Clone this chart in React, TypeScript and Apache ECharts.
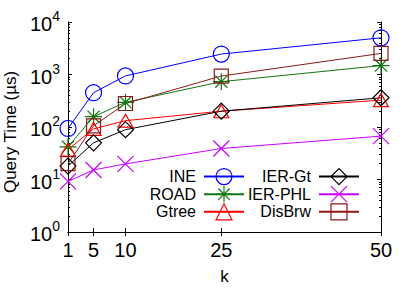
import React, { useEffect, useRef } from "react";
import * as echarts from "echarts";

const ks = [1, 5, 10, 25, 50];
const xTickLabels = [1, 5, 10, 25, 50];
const yDecades = [0, 1, 2, 3, 4];

const seriesNames = ["INE", "ROAD", "Gtree", "IER-Gt", "IER-PHL", "DisBrw"];
const ine = [94, 450, 940, 2450, 5000];
const road = [42, 157, 295, 730, 1480];
const gtree = [37, 92, 132, 200, 325];
const ierGt = [18, 50, 89, 200, 360];
const ierPhl = [9.2, 15.2, 19.8, 39, 67];
const disBrw = [20, 105, 280, 935, 2520];

const colors = ["#0000ff", "#117711", "#ff0000", "#000000", "#cc00ff", "#8b1a1a"];
const symbols = [
  "path://M8,0A8,8,0,1,1,8,16A8,8,0,1,1,8,0Z",
  "path://M8,0L8,16M0,8L16,8M2.3,2.3L13.7,13.7M13.7,2.3L2.3,13.7",
  "path://M8,0L16,14L0,14Z",
  "path://M8,0L16,8L8,16L0,8Z",
  "path://M0,0L16,16M16,0L0,16",
  "path://M0,0L16,0L16,16L0,16Z",
];
const symbolSizes: any[] = [16, 17, [15, 13], 16, 16, 14];

const FONT = "Liberation Sans, Arial, Helvetica, sans-serif";

export default function App() {
  const ref = useRef<HTMLDivElement>(null);
  useEffect(() => {
    if (!ref.current) return;
    const chart = echarts.init(ref.current, null, { renderer: "svg" });
    const values = [ine, road, gtree, ierGt, ierPhl, disBrw];
    const minorVals: number[] = [];
    for (let d = 0; d < 4; d++) {
      for (let m = 2; m <= 9; m++) minorVals.push(d + Math.log10(m));
    }
    const tickAxisBase = {
      type: "value",
      min: 0,
      max: 4,
      axisLine: { show: false },
      axisLabel: { show: false },
      splitLine: { show: false },
    };
    const series = values.map((vals, i) => ({
      name: seriesNames[i],
      type: "line",
      xAxisIndex: 0,
      yAxisIndex: 0,
      data: vals.map((v, j) => [ks[j], v]),
      symbol: symbols[i],
      symbolSize: symbolSizes[i],
      showAllSymbol: true,
      lineStyle: { color: colors[i], width: 1 },
      itemStyle: { color: "rgba(0,0,0,0)", borderColor: colors[i], borderWidth: 1.2 },
      emphasis: { disabled: true },
    }));
    const legendCommon = {
      orient: "vertical",
      align: "right",
      itemWidth: 40,
      itemHeight: 20,
      itemGap: 0.4,
      padding: 0,
      top: 168,
      selectedMode: false,
      textStyle: { fontSize: 16, color: "#000", fontFamily: FONT, padding: [0, 3, 0, 0] },
      itemStyle: { borderWidth: 1.2 },
    };
    chart.setOption({
      animation: false,
      textStyle: { fontFamily: FONT },
      grid: { left: 68, right: 34, top: 22, bottom: 59, containLabel: false, outerBoundsMode: "none" },
      legend: [
        { ...legendCommon, right: 170, data: seriesNames.slice(0, 3) },
        { ...legendCommon, right: 55, data: seriesNames.slice(3, 6) },
      ],
      xAxis: [
        {
          type: "value",
          min: 1,
          max: 50,
          position: "bottom",
          name: "k",
          nameLocation: "middle",
          nameGap: 36,
          nameTextStyle: { fontSize: 17, color: "#000", fontFamily: FONT },
          axisLine: { lineStyle: { color: "#000", width: 1 } },
          axisTick: { inside: true, length: 4, customValues: xTickLabels, lineStyle: { color: "#000" } },
          axisLabel: { customValues: xTickLabels, fontSize: 20, color: "#000", margin: 8, fontFamily: FONT },
          splitLine: { show: false },
        },
        {
          type: "value",
          min: 1,
          max: 50,
          position: "top",
          axisLine: { lineStyle: { color: "#000", width: 1 } },
          axisTick: { inside: true, length: 4, customValues: xTickLabels, lineStyle: { color: "#000" } },
          axisLabel: { show: false },
          splitLine: { show: false },
        },
      ],
      yAxis: [
        {
          type: "log",
          logBase: 10,
          min: 1,
          max: 10000,
          position: "left",
          name: "Query Time (µs)",
          nameLocation: "middle",
          nameGap: 43,
          nameTextStyle: { fontSize: 17, color: "#000", fontFamily: FONT, padding: [0, 10, 0, 0] },
          axisLine: { lineStyle: { color: "#000", width: 1 } },
          axisTick: { inside: true, length: 4, lineStyle: { color: "#000" } },
          axisLabel: {
            margin: 8,
            color: "#000",
            formatter: (v: number) => "{b|10}{s|" + Math.round(Math.log10(v)) + "}",
            rich: {
              b: { fontSize: 20, color: "#000", fontFamily: FONT, padding: [4, 0, 0, 0] },
              s: { fontSize: 14, color: "#000", fontFamily: FONT, padding: [0, 0, 12, 0] },
            },
          },
          splitLine: { show: false },
        },
        {
          ...tickAxisBase,
          position: "left",
          axisTick: { inside: true, length: 2, customValues: minorVals, lineStyle: { color: "#000" } },
        },
        {
          ...tickAxisBase,
          position: "right",
          axisLine: { show: true, lineStyle: { color: "#000", width: 1 } },
          axisTick: { inside: true, length: 4, customValues: yDecades, lineStyle: { color: "#000" } },
        },
        {
          ...tickAxisBase,
          position: "right",
          axisTick: { inside: true, length: 2, customValues: minorVals, lineStyle: { color: "#000" } },
        },
      ],
      series,
    });
    return () => chart.dispose();
  }, []);
  return <div ref={ref} style={{ width: 415, height: 291, position: "absolute", left: 0, top: 0 }} />;
}
